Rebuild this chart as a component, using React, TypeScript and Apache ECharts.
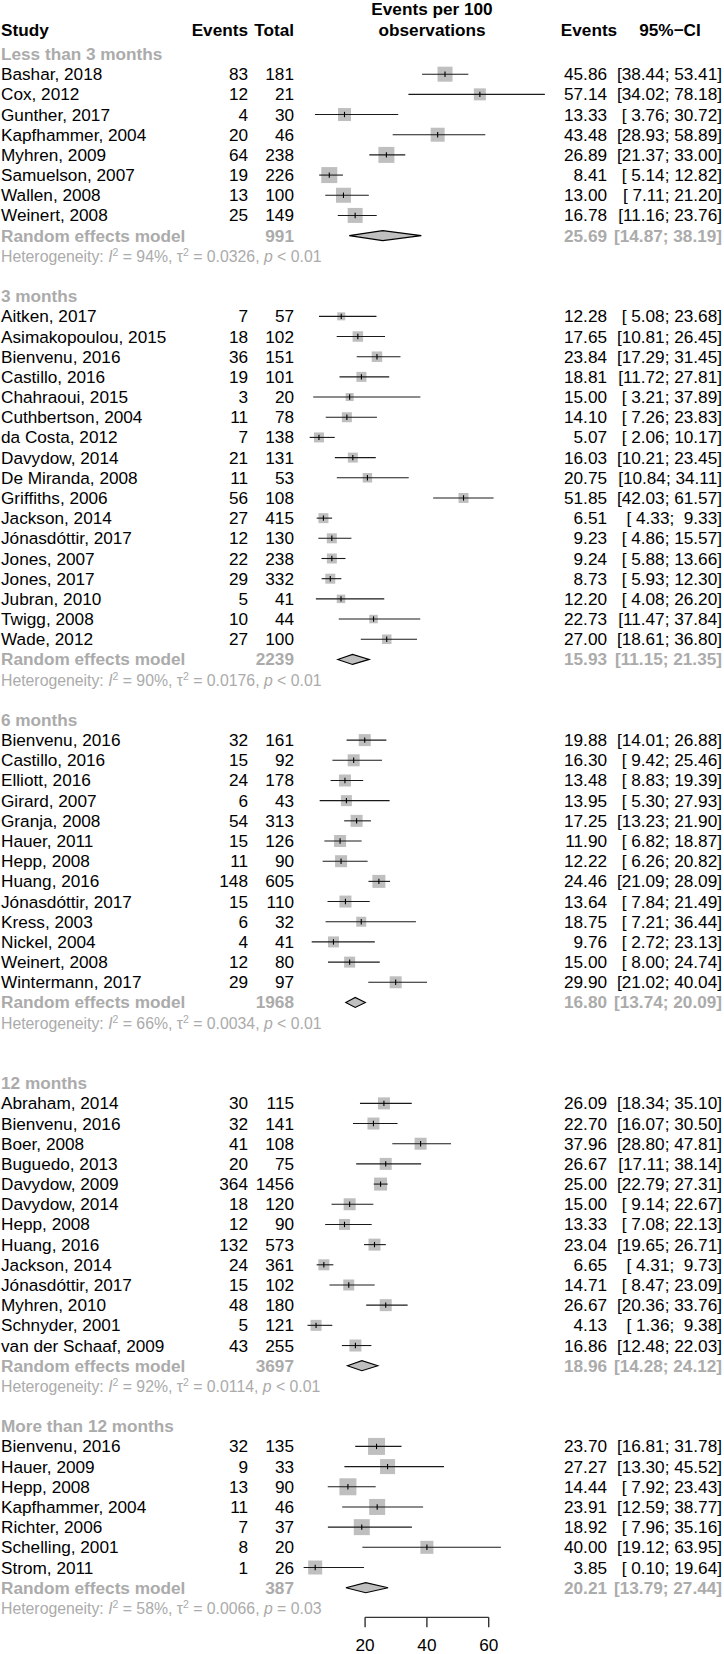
import React, { useEffect, useRef } from "react";
import * as echarts from "echarts";

// [study, events, total, estimate, lower, upper, weight(square side)]
type Study = [string, number, number, number, number, number, number];

const groupLabels = ["Less than 3 months", "3 months", "6 months", "12 months", "More than 12 months"];

const lessThan3: Study[] = [
  ["Bashar, 2018", 83, 181, 45.86, 38.44, 53.41, 15],
  ["Cox, 2012", 12, 21, 57.14, 34.02, 78.18, 12],
  ["Gunther, 2017", 4, 30, 13.33, 3.76, 30.72, 13],
  ["Kapfhammer, 2004", 20, 46, 43.48, 28.93, 58.89, 14],
  ["Myhren, 2009", 64, 238, 26.89, 21.37, 33.0, 16],
  ["Samuelson, 2007", 19, 226, 8.41, 5.14, 12.82, 16],
  ["Wallen, 2008", 13, 100, 13.0, 7.11, 21.2, 15],
  ["Weinert, 2008", 25, 149, 16.78, 11.16, 23.76, 15],
];

const months3: Study[] = [
  ["Aitken, 2017", 7, 57, 12.28, 5.08, 23.68, 8],
  ["Asimakopoulou, 2015", 18, 102, 17.65, 10.81, 26.45, 10.5],
  ["Bienvenu, 2016", 36, 151, 23.84, 17.29, 31.45, 10.5],
  ["Castillo, 2016", 19, 101, 18.81, 11.72, 27.81, 10],
  ["Chahraoui, 2015", 3, 20, 15.0, 3.21, 37.89, 8],
  ["Cuthbertson, 2004", 11, 78, 14.1, 7.26, 23.83, 10],
  ["da Costa, 2012", 7, 138, 5.07, 2.06, 10.17, 10],
  ["Davydow, 2014", 21, 131, 16.03, 10.21, 23.45, 10],
  ["De Miranda, 2008", 11, 53, 20.75, 10.84, 34.11, 9.5],
  ["Griffiths, 2006", 56, 108, 51.85, 42.03, 61.57, 10],
  ["Jackson, 2014", 27, 415, 6.51, 4.33, 9.33, 10],
  ["Jónasdóttir, 2017", 12, 130, 9.23, 4.86, 15.57, 10],
  ["Jones, 2007", 22, 238, 9.24, 5.88, 13.66, 10],
  ["Jones, 2017", 29, 332, 8.73, 5.93, 12.3, 10],
  ["Jubran, 2010", 5, 41, 12.2, 4.08, 26.2, 8.5],
  ["Twigg, 2008", 10, 44, 22.73, 11.47, 37.84, 8.5],
  ["Wade, 2012", 27, 100, 27.0, 18.61, 36.8, 9.5],
];

const months6: Study[] = [
  ["Bienvenu, 2016", 32, 161, 19.88, 14.01, 26.88, 12],
  ["Castillo, 2016", 15, 92, 16.3, 9.42, 25.46, 12],
  ["Elliott, 2016", 24, 178, 13.48, 8.83, 19.39, 12],
  ["Girard, 2007", 6, 43, 13.95, 5.3, 27.93, 11],
  ["Granja, 2008", 54, 313, 17.25, 13.23, 21.9, 12],
  ["Hauer, 2011", 15, 126, 11.9, 6.82, 18.87, 12],
  ["Hepp, 2008", 11, 90, 12.22, 6.26, 20.82, 12],
  ["Huang, 2016", 148, 605, 24.46, 21.09, 28.09, 13],
  ["Jónasdóttir, 2017", 15, 110, 13.64, 7.84, 21.49, 12],
  ["Kress, 2003", 6, 32, 18.75, 7.21, 36.44, 10],
  ["Nickel, 2004", 4, 41, 9.76, 2.72, 23.13, 11],
  ["Weinert, 2008", 12, 80, 15.0, 8.0, 24.74, 11],
  ["Wintermann, 2017", 29, 97, 29.9, 21.02, 40.04, 12],
];

const months12: Study[] = [
  ["Abraham, 2014", 30, 115, 26.09, 18.34, 35.1, 12],
  ["Bienvenu, 2016", 32, 141, 22.7, 16.07, 30.5, 12],
  ["Boer, 2008", 41, 108, 37.96, 28.8, 47.81, 12],
  ["Buguedo, 2013", 20, 75, 26.67, 17.11, 38.14, 12],
  ["Davydow, 2009", 364, 1456, 25.0, 22.79, 27.31, 13],
  ["Davydow, 2014", 18, 120, 15.0, 9.14, 22.67, 12],
  ["Hepp, 2008", 12, 90, 13.33, 7.08, 22.13, 11],
  ["Huang, 2016", 132, 573, 23.04, 19.65, 26.71, 12],
  ["Jackson, 2014", 24, 361, 6.65, 4.31, 9.73, 11],
  ["Jónasdóttir, 2017", 15, 102, 14.71, 8.47, 23.09, 11],
  ["Myhren, 2010", 48, 180, 26.67, 20.36, 33.76, 12],
  ["Schnyder, 2001", 5, 121, 4.13, 1.36, 9.38, 11],
  ["van der Schaaf, 2009", 43, 255, 16.86, 12.48, 22.03, 12],
];

const moreThan12: Study[] = [
  ["Bienvenu, 2016", 32, 135, 23.7, 16.81, 31.78, 17],
  ["Hauer, 2009", 9, 33, 27.27, 13.3, 45.52, 15],
  ["Hepp, 2008", 13, 90, 14.44, 7.92, 23.43, 17],
  ["Kapfhammer, 2004", 11, 46, 23.91, 12.59, 38.77, 16],
  ["Richter, 2006", 7, 37, 18.92, 7.96, 35.16, 16],
  ["Schelling, 2001", 8, 20, 40.0, 19.12, 63.95, 13],
  ["Strom, 2011", 1, 26, 3.85, 0.1, 19.64, 14],
];

const groupStudies = [lessThan3, months3, months6, months12, moreThan12];
const pooledTotals = [991, 2239, 1968, 3697, 387];
const pooledEst = [25.69, 15.93, 16.8, 18.96, 20.21];
const pooledLo = [14.87, 11.15, 13.74, 14.28, 13.79];
const pooledHi = [38.19, 21.35, 20.09, 24.12, 27.44];
const hetI2 = ["94%", "90%", "66%", "92%", "58%"];
const hetTau2 = ["0.0326", "0.0176", "0.0034", "0.0114", "0.0066"];
const hetP = ["< 0.01", "< 0.01", "< 0.01", "< 0.01", "= 0.03"];
const blankRowsAfter = [1, 1, 2, 1, 0];
const axisTicks = [20, 40, 60];

// ---------- layout ----------
const W = 724;
const H = 1654;
const FONT = '"Liberation Sans", Arial, Helvetica, sans-serif';
const FS = 17.2;
const FS_HET = 15.8;
const GRAY = "#ababab";
const SQ = "#bfbfbf";
const ROW_H = 20.18;
const ROW0_Y = 54;
const X0_PX = 303.3;
const PX_PER_UNIT = 3.09;
const X_MAX = 80;
const COL_NAME = 1;
const COL_EVENTS = 248;
const COL_TOTAL = 294;
const COL_EST = 607;
const COL_CI = 722;
const HEAD_PLOT_X = 432;

type Row =
  | { kind: "label"; text: string }
  | { kind: "study"; s: Study }
  | { kind: "random"; g: number }
  | { kind: "het"; g: number }
  | { kind: "blank" };

const rows: Row[] = [];
groupStudies.forEach((studies, g) => {
  rows.push({ kind: "label", text: groupLabels[g] });
  studies.forEach((s) => rows.push({ kind: "study", s }));
  rows.push({ kind: "random", g });
  rows.push({ kind: "het", g });
  for (let i = 0; i < blankRowsAfter[g]; i++) rows.push({ kind: "blank" });
});

const f2 = (v: number) => v.toFixed(2);
const pad = (v: number) => (v < 10 ? " " : "") + f2(v);
const ciText = (lo: number, hi: number) => `[${pad(lo)}; ${pad(hi)}]`;

const Y_MIN = -ROW0_Y / ROW_H;
const Y_MAX = Y_MIN + H / ROW_H;

function txt(x: number, y: number, text: string, opts: any = {}) {
  return {
    type: "text",
    x,
    y,
    silent: true,
    style: {
      text,
      fill: opts.fill || "#000",
      fontSize: opts.fontSize || FS,
      fontWeight: opts.bold ? "bold" : "normal",
      fontFamily: FONT,
      align: opts.align || "left",
      verticalAlign: "middle",
    },
  };
}

export default function App() {
  const ref = useRef<HTMLDivElement>(null);

  useEffect(() => {
    if (!ref.current) return;
    const chart = echarts.init(ref.current, undefined, { renderer: "svg" });

    const tableData = rows.map((_, i) => [0, i]);
    const studyData: number[][] = [];
    rows.forEach((r, i) => {
      if (r.kind === "study") studyData.push([r.s[3], i, r.s[4], r.s[5], r.s[6]]);
    });
    const pooledData: number[][] = [];
    rows.forEach((r, i) => {
      if (r.kind === "random") pooledData.push([pooledEst[r.g], i, pooledLo[r.g], pooledHi[r.g]]);
    });
    const lastRow = rows.length - 1;
    const axisData = axisTicks.map((v) => [v, lastRow]);

    const option: any = {
      animation: false,
      backgroundColor: "#fff",
      grid: {
        left: X0_PX,
        top: 0,
        width: X_MAX * PX_PER_UNIT,
        height: H,
        containLabel: false,
      },
      xAxis: { type: "value", min: 0, max: X_MAX, show: false },
      yAxis: { type: "value", min: Y_MIN, max: Y_MAX, inverse: true, show: false },
      graphic: [
        txt(HEAD_PLOT_X, 9, "Events per 100", { bold: true, align: "center" }),
        txt(HEAD_PLOT_X, 30, "observations", { bold: true, align: "center" }),
        txt(COL_NAME, 30, "Study", { bold: true }),
        txt(COL_EVENTS, 30, "Events", { bold: true, align: "right" }),
        txt(COL_TOTAL, 30, "Total", { bold: true, align: "right" }),
        txt(589, 30, "Events", { bold: true, align: "center" }),
        txt(670, 30, "95%\u2212CI", { bold: true, align: "center" }),
      ],
      series: [
        {
          type: "custom",
          silent: true,
          clip: false,
          data: tableData,
          renderItem: (params: any, api: any) => {
            const i = params.dataIndex;
            const r = rows[i];
            const y = api.coord([0, i])[1];
            const ch: any[] = [];
            if (r.kind === "label") {
              ch.push(txt(COL_NAME, y, r.text, { bold: true, fill: GRAY }));
            } else if (r.kind === "study") {
              const s = r.s;
              ch.push(txt(COL_NAME, y, s[0]));
              ch.push(txt(COL_EVENTS, y, String(s[1]), { align: "right" }));
              ch.push(txt(COL_TOTAL, y, String(s[2]), { align: "right" }));
              ch.push(txt(COL_EST, y, f2(s[3]), { align: "right" }));
              ch.push(txt(COL_CI, y, ciText(s[4], s[5]), { align: "right" }));
            } else if (r.kind === "random") {
              const g = r.g;
              const o = { bold: true, fill: GRAY };
              ch.push(txt(COL_NAME, y, "Random effects model", o));
              ch.push(txt(COL_TOTAL, y, String(pooledTotals[g]), { ...o, align: "right" }));
              ch.push(txt(COL_EST, y, f2(pooledEst[g]), { ...o, align: "right" }));
              ch.push(txt(COL_CI, y, ciText(pooledLo[g], pooledHi[g]), { ...o, align: "right" }));
            } else if (r.kind === "het") {
              const g = r.g;
              const base = { fontSize: FS_HET, fontFamily: FONT, fill: GRAY, lineHeight: 18, verticalAlign: "bottom" };
              const ital = { ...base, fontStyle: "italic" };
              const sup = { fontSize: 10.5, fontFamily: FONT, fill: GRAY, lineHeight: 10, verticalAlign: "top" };
              ch.push({
                type: "text",
                x: COL_NAME,
                y,
                silent: true,
                style: {
                  text:
                    `{a|Heterogeneity: }{i|I}{s|2}{a| = ${hetI2[g]}, \u03c4}{s|2}{a| = ${hetTau2[g]}, }{i|p}{a| ${hetP[g]}}`,
                  fontSize: FS_HET,
                  fontFamily: FONT,
                  fill: GRAY,
                  align: "left",
                  verticalAlign: "middle",
                  rich: { a: base, i: ital, s: sup },
                },
              });
            }
            return { type: "group", children: ch };
          },
        },
        {
          type: "custom",
          silent: true,
          clip: false,
          data: studyData,
          encode: { x: [0, 2, 3], y: 1 },
          renderItem: (params: any, api: any) => {
            const row = api.value(1);
            const p = api.coord([api.value(0), row]);
            const lo = api.coord([api.value(2), row]);
            const hi = api.coord([api.value(3), row]);
            const sz = api.value(4);
            return {
              type: "group",
              children: [
                {
                  type: "rect",
                  shape: { x: p[0] - sz / 2, y: p[1] - sz / 2, width: sz, height: sz },
                  style: { fill: SQ },
                },
                {
                  type: "line",
                  shape: { x1: lo[0], y1: p[1], x2: hi[0], y2: p[1] },
                  style: { stroke: "#1a1a1a", lineWidth: 1.1 },
                },
                {
                  type: "line",
                  shape: { x1: p[0], y1: p[1] - 2.7, x2: p[0], y2: p[1] + 2.7 },
                  style: { stroke: "#000", lineWidth: 1.1 },
                },
              ],
            };
          },
        },
        {
          type: "custom",
          silent: true,
          clip: false,
          data: pooledData,
          encode: { x: [0, 2, 3], y: 1 },
          renderItem: (params: any, api: any) => {
            const row = api.value(1);
            const p = api.coord([api.value(0), row]);
            const lo = api.coord([api.value(2), row]);
            const hi = api.coord([api.value(3), row]);
            const h = 5;
            return {
              type: "polygon",
              shape: {
                points: [
                  [lo[0], p[1]],
                  [p[0], p[1] - h],
                  [hi[0], p[1]],
                  [p[0], p[1] + h],
                ],
              },
              style: { fill: SQ, stroke: "#000", lineWidth: 1.1 },
            };
          },
        },
        {
          type: "custom",
          silent: true,
          clip: false,
          data: axisData,
          renderItem: (params: any, api: any) => {
            const row = api.value(1);
            const p = api.coord([api.value(0), row]);
            const yLine = p[1] + 9.5;
            const ch: any[] = [
              {
                type: "line",
                shape: { x1: p[0], y1: yLine, x2: p[0], y2: yLine + 10 },
                style: { stroke: "#333", lineWidth: 1.4 },
              },
              txt(p[0], yLine + 28, String(api.value(0)), { align: "center" }),
            ];
            if (params.dataIndex === 0) {
              const a = api.coord([axisTicks[0], row]);
              const b = api.coord([axisTicks[axisTicks.length - 1], row]);
              ch.push({
                type: "line",
                shape: { x1: a[0], y1: yLine, x2: b[0], y2: yLine },
                style: { stroke: "#333", lineWidth: 1.4 },
              });
            }
            return { type: "group", children: ch };
          },
        },
      ],
    };

    chart.setOption(option);
    return () => chart.dispose();
  }, []);

  return (
    <div
      ref={ref}
      style={{ position: "absolute", left: 0, top: 0, width: W, height: H, background: "#fff" }}
    />
  );
}
